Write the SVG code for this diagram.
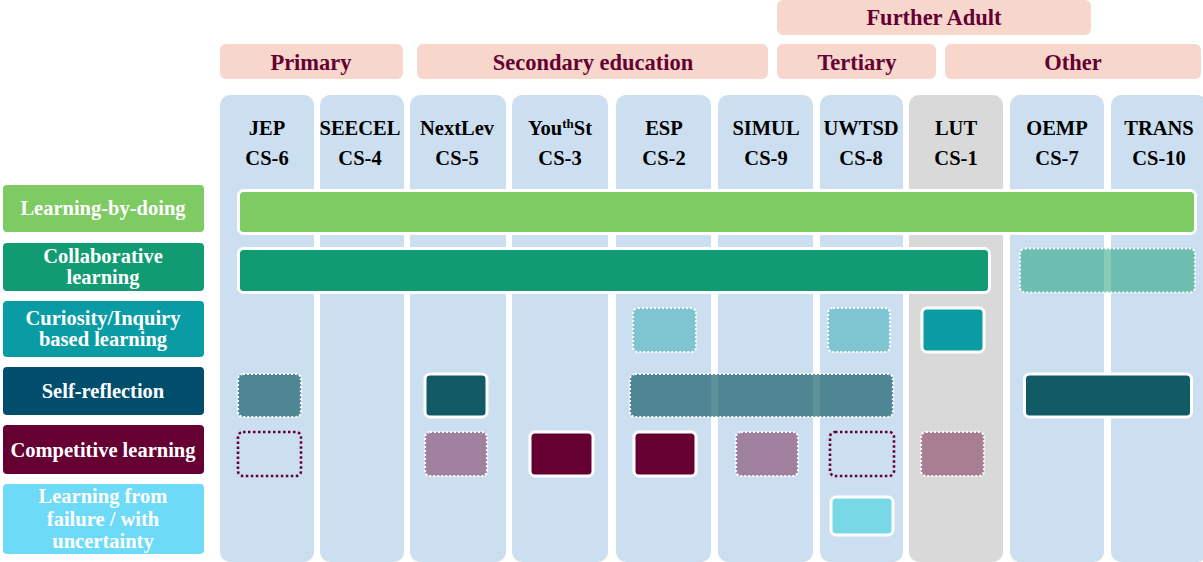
<svg xmlns="http://www.w3.org/2000/svg" width="1203" height="562" viewBox="0 0 1203 562">
<style>
.hdr{fill:#F7D7CC}
.ht{font-family:"Liberation Serif","Times New Roman",serif;font-weight:bold;font-size:22.5px;fill:#660033;text-anchor:middle}
.col{fill:#CCDFF0}
.ct{font-family:"Liberation Serif","Times New Roman",serif;font-weight:bold;font-size:20.5px;fill:#000;text-anchor:middle}
.lt{font-family:"Liberation Serif","Times New Roman",serif;font-weight:bold;font-size:20.5px;fill:#fff;text-anchor:middle}
.solid{stroke:#fff;stroke-width:3}
.dot{stroke:#fff;stroke-width:2.2;stroke-dasharray:2 2}
.mdot{fill:none;stroke:#660033;stroke-width:2.6;stroke-dasharray:2.5 2.5}
</style>
<rect width="1203" height="562" fill="#fff"/>
<g id="headers">
<g id="h-further"><rect class="hdr" x="777" y="0" width="314" height="35" rx="6"/><text class="ht" x="934" y="25">Further Adult</text></g>
<g id="h-primary"><rect class="hdr" x="220" y="44" width="183" height="35" rx="6"/><text class="ht" x="311" y="70">Primary</text></g>
<g id="h-secondary"><rect class="hdr" x="417" y="44" width="351" height="35" rx="6"/><text class="ht" x="593" y="70">Secondary education</text></g>
<g id="h-tertiary"><rect class="hdr" x="777" y="44" width="159" height="35" rx="6"/><text class="ht" x="857" y="70">Tertiary</text></g>
<g id="h-other"><rect class="hdr" x="945" y="44" width="256" height="35" rx="6"/><text class="ht" x="1073" y="70">Other</text></g>
</g>
<g id="columns">
<g id="c-jep"><rect class="col" x="220" y="95" width="94" height="467" rx="10"/><text class="ct" x="267" y="135">JEP</text><text class="ct" x="267" y="165">CS-6</text></g>
<g id="c-seecel"><rect class="col" x="320" y="95" width="84" height="467" rx="10"/><text class="ct" x="360" y="135">SEECEL</text><text class="ct" x="360" y="165">CS-4</text></g>
<g id="c-nextlev"><rect class="col" x="410" y="95" width="96" height="467" rx="10"/><text class="ct" x="457" y="135">NextLev</text><text class="ct" x="457" y="165">CS-5</text></g>
<g id="c-youthst"><rect class="col" x="512" y="95" width="96" height="467" rx="10"/><text class="ct" x="560" y="135">You<tspan font-size="13" dy="-7">th</tspan><tspan dy="7">St</tspan></text><text class="ct" x="560" y="165">CS-3</text></g>
<g id="c-esp"><rect class="col" x="616" y="95" width="95" height="467" rx="10"/><text class="ct" x="664" y="135">ESP</text><text class="ct" x="664" y="165">CS-2</text></g>
<g id="c-simul"><rect class="col" x="718" y="95" width="95" height="467" rx="10"/><text class="ct" x="766" y="135">SIMUL</text><text class="ct" x="766" y="165">CS-9</text></g>
<g id="c-uwtsd"><rect class="col" x="820" y="95" width="83" height="467" rx="10"/><text class="ct" x="861" y="135">UWTSD</text><text class="ct" x="861" y="165">CS-8</text></g>
<g id="c-lut"><rect x="909" y="95" width="94" height="467" rx="10" fill="#D9D9D9"/><text class="ct" x="956" y="135">LUT</text><text class="ct" x="956" y="165">CS-1</text></g>
<g id="c-oemp"><rect class="col" x="1010" y="95" width="94" height="467" rx="10"/><text class="ct" x="1057" y="135">OEMP</text><text class="ct" x="1057" y="165">CS-7</text></g>
<g id="c-trans"><rect class="col" x="1111" y="95" width="96" height="467" rx="10"/><text class="ct" x="1159" y="135">TRANS</text><text class="ct" x="1159" y="165">CS-10</text></g>
</g>
<g id="row-labels">
<g id="l-doing"><rect x="3" y="185" width="201" height="47" rx="4" fill="#7ECA63"/><text class="lt" x="103" y="215">Learning-by-doing</text></g>
<g id="l-collab"><rect x="3" y="243" width="201" height="48" rx="4" fill="#109B72"/><text class="lt" x="103" y="263">Collaborative</text><text class="lt" x="103" y="284">learning</text></g>
<g id="l-curiosity"><rect x="3" y="301" width="201" height="56" rx="4" fill="#0A9CA4"/><text class="lt" x="103" y="325">Curiosity/Inquiry</text><text class="lt" x="103" y="346">based learning</text></g>
<g id="l-self"><rect x="3" y="367" width="201" height="48" rx="4" fill="#004E6C"/><text class="lt" x="103" y="398">Self-reflection</text></g>
<g id="l-compet"><rect x="3" y="425" width="201" height="49" rx="4" fill="#660033"/><text class="lt" x="103" y="457">Competitive learning</text></g>
<g id="l-failure"><rect x="3" y="484" width="201" height="70" rx="4" fill="#6DDAF7"/><text class="lt" x="103" y="503">Learning from</text><text class="lt" x="103" y="526">failure / with</text><text class="lt" x="103" y="548">uncertainty</text></g>
</g>
<g id="bars">
<rect class="solid" x="238.5" y="190.5" width="957" height="43" rx="5" fill="#7ECA63"/>
<rect class="solid" x="238.5" y="248.5" width="751" height="44" rx="5" fill="#109B72"/>
<rect class="dot" x="1020" y="248.5" width="175" height="44" rx="5" fill="#109B72" fill-opacity="0.5"/>
<rect class="dot" x="633" y="308" width="63" height="44" rx="5" fill="#0A9BA3" fill-opacity="0.4"/>
<rect class="dot" x="828" y="308" width="62" height="44" rx="5" fill="#0A9BA3" fill-opacity="0.4"/>
<rect class="solid" x="922" y="308" width="62" height="44" rx="5" fill="#0A9BA3"/>
<rect class="dot" x="238" y="374" width="63" height="43" rx="5" fill="#115B66" fill-opacity="0.67"/>
<rect class="solid" x="425" y="374" width="62" height="43" rx="5" fill="#115B66"/>
<rect class="dot" x="630" y="374" width="263" height="43" rx="5" fill="#115B66" fill-opacity="0.67"/>
<rect class="solid" x="1024.5" y="374" width="167" height="43" rx="5" fill="#115B66"/>
<rect class="mdot" x="238" y="432" width="63" height="44" rx="5"/>
<rect class="dot" x="425" y="432" width="62" height="44" rx="5" fill="#660033" fill-opacity="0.42"/>
<rect class="solid" x="530" y="432" width="63" height="44" rx="5" fill="#660033"/>
<rect class="solid" x="634" y="432" width="62" height="44" rx="5" fill="#660033"/>
<rect class="dot" x="736" y="432" width="62" height="44" rx="5" fill="#660033" fill-opacity="0.42"/>
<rect class="mdot" x="830" y="432" width="64" height="44" rx="5"/>
<rect class="dot" x="921" y="432" width="63" height="44" rx="5" fill="#660033" fill-opacity="0.42"/>
<rect class="solid" x="831" y="497" width="62" height="38" rx="5" fill="#78D8E6"/>
</g>
</svg>
